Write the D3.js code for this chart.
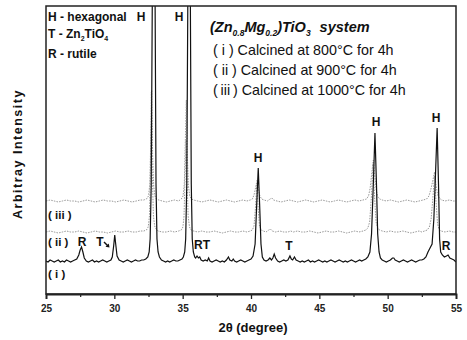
<!DOCTYPE html>
<html><head><meta charset="utf-8">
<script src="https://cdn.jsdelivr.net/npm/d3@7"></script>
<style>body{margin:0;background:#fff}svg{display:block}text{font-family:"Liberation Sans",Arial,sans-serif}</style>
</head><body><svg id="c" width="467" height="340"></svg>
<script>
// ---- data (2θ in degrees, intensity in arbitrary units) ----
const xTicks = [25, 30, 35, 40, 45, 50, 55];
const xMinorTicks = [27.5, 32.5, 37.5, 42.5, 47.5, 52.5];
const seriesLabels = ["( i )", "( ii )", "( iii )"];
const legendLines = ["( i ) Calcined at 800°C for 4h", "( ii ) Calcined at 900°C for 4h", "(\u2009iii\u2009) Calcined at 1000°C for 4h"];
const phaseKey = ["H - hexagonal", "T - Zn2TiO4", "R - rutile"];

const curveI = [[25.0,33],[25.15,32],[25.3,34],[25.45,33],[25.6,32],[25.75,33],[25.9,34],[26.05,32],[26.2,33],[26.35,32],[26.5,34],[26.65,33],[26.8,32],[26.95,33],[27.1,34],[27.25,35],[27.4,39],[27.5,44],[27.6,47],[27.7,42],[27.8,36],[27.95,33],[28.1,32],[28.25,33],[28.4,34],[28.55,32],[28.7,33],[28.85,32],[29.0,33],[29.15,34],[29.3,33],[29.45,32],[29.6,33],[29.75,34],[29.85,37],[29.95,48],[30.03,59],[30.1,50],[30.2,38],[30.35,34],[30.5,33],[30.65,32],[30.8,33],[30.95,34],[31.1,33],[31.25,32],[31.4,33],[31.55,34],[31.7,33],[31.85,33],[32.0,34],[32.15,34],[32.3,35],[32.45,37],[32.55,42],[32.62,55],[32.7,110],[32.78,300],[32.88,700],[32.98,300],[33.05,110],[33.12,55],[33.2,42],[33.3,37],[33.45,34],[33.6,33],[33.75,32],[33.9,33],[34.05,32],[34.2,33],[34.35,34],[34.5,33],[34.65,33],[34.8,34],[34.95,35],[35.05,37],[35.15,42],[35.22,55],[35.3,110],[35.38,300],[35.47,700],[35.56,300],[35.63,110],[35.7,55],[35.78,42],[35.88,37],[35.95,36],[36.05,38],[36.15,36],[36.25,37],[36.35,34],[36.5,33],[36.65,34],[36.8,33],[36.9,36],[37.0,33],[37.15,32],[37.3,33],[37.45,34],[37.6,33],[37.75,32],[37.9,33],[38.05,32],[38.2,34],[38.35,37],[38.45,34],[38.6,33],[38.7,35],[38.8,33],[38.95,32],[39.1,33],[39.25,34],[39.4,33],[39.55,32],[39.7,33],[39.85,34],[40.0,35],[40.15,38],[40.3,50],[40.42,90],[40.53,126],[40.63,90],[40.73,50],[40.83,37],[40.95,34],[41.1,33],[41.25,34],[41.38,36],[41.5,34],[41.6,36],[41.7,40],[41.8,36],[41.95,33],[42.1,32],[42.25,33],[42.4,34],[42.55,33],[42.7,34],[42.85,38],[42.95,35],[43.05,34],[43.18,37],[43.3,34],[43.45,33],[43.6,32],[43.75,33],[43.9,32],[44.05,33],[44.2,34],[44.35,32],[44.5,33],[44.65,32],[44.8,33],[44.95,34],[45.1,33],[45.25,32],[45.4,33],[45.55,32],[45.7,33],[45.85,34],[46.0,33],[46.15,32],[46.3,33],[46.45,34],[46.6,33],[46.75,32],[46.9,33],[47.05,32],[47.2,33],[47.35,34],[47.5,33],[47.65,32],[47.8,33],[47.95,34],[48.1,33],[48.25,34],[48.4,35],[48.55,37],[48.7,42],[48.82,60],[48.95,110],[49.07,161],[49.18,110],[49.27,60],[49.37,42],[49.47,36],[49.6,34],[49.75,33],[49.9,32],[50.05,33],[50.2,34],[50.35,36],[50.45,36],[50.55,34],[50.7,33],[50.85,32],[51.0,33],[51.15,34],[51.3,33],[51.45,32],[51.6,33],[51.75,34],[51.9,33],[52.05,32],[52.2,33],[52.35,34],[52.5,34],[52.65,35],[52.8,37],[52.95,42],[53.1,46],[53.25,50],[53.38,75],[53.5,120],[53.62,166],[53.72,110],[53.8,55],[53.88,42],[54.0,39],[54.15,37],[54.3,38],[54.42,39],[54.55,36],[54.7,35],[54.85,34],[55.0,32]];

const curveII = [[25,62],[25.3,63],[25.6,62],[25.9,61],[26.2,62],[26.5,63],[26.8,62],[27.1,62],[27.4,63],[27.7,62],[28.0,61],[28.3,62],[28.6,63],[28.9,62],[29.2,62],[29.5,61],[29.8,62],[30.1,63],[30.4,62],[30.7,62],[31.0,63],[31.3,62],[31.6,62],[31.9,63],[32.15,63],[32.35,64],[32.48,67],[32.57,78],[32.64,120],[32.71,202],[32.78,120],[32.86,78],[32.95,68],[33.05,65],[33.2,63],[33.5,62],[33.8,62],[34.1,63],[34.4,62],[34.7,63],[34.9,64],[35.02,67],[35.1,78],[35.17,115],[35.25,154],[35.33,110],[35.4,78],[35.5,67],[35.62,64],[35.8,63],[36.1,62],[36.4,63],[36.7,62],[37.0,62],[37.3,63],[37.6,62],[37.9,61],[38.2,62],[38.5,63],[38.8,62],[39.1,62],[39.4,63],[39.7,62],[39.95,63],[40.1,64],[40.22,68],[40.32,85],[40.43,110],[40.53,85],[40.62,68],[40.75,64],[40.9,63],[41.1,62],[41.3,64],[41.42,65],[41.55,63],[41.8,62],[42.1,63],[42.4,62],[42.7,62],[42.9,63],[43.1,62],[43.4,63],[43.7,62],[44.0,62],[44.3,63],[44.6,62],[44.9,61],[45.2,62],[45.5,63],[45.8,62],[46.1,62],[46.4,63],[46.7,62],[47.0,61],[47.3,62],[47.6,63],[47.9,62],[48.2,63],[48.4,64],[48.55,66],[48.68,72],[48.8,95],[48.93,130],[49.05,95],[49.15,72],[49.27,66],[49.4,64],[49.6,63],[49.9,62],[50.2,63],[50.5,62],[50.8,62],[51.1,63],[51.4,62],[51.7,61],[52.0,62],[52.3,63],[52.5,62],[52.7,63],[52.9,64],[53.05,67],[53.18,75],[53.3,95],[53.43,118],[53.55,90],[53.65,70],[53.75,65],[53.9,63],[54.2,62],[54.5,63],[54.8,62],[55,62]];

const curveIII = [[25,93],[25.3,94],[25.6,93],[25.9,92],[26.2,93],[26.5,94],[26.8,93],[27.1,93],[27.4,92],[27.7,93],[28.0,94],[28.3,93],[28.6,92],[28.9,93],[29.2,94],[29.5,93],[29.8,93],[30.1,92],[30.4,93],[30.7,94],[31.0,93],[31.3,92],[31.6,93],[31.9,94],[32.15,94],[32.35,95],[32.5,98],[32.6,110],[32.66,150],[32.73,204],[32.8,140],[32.88,108],[32.97,98],[33.08,95],[33.25,94],[33.5,93],[33.8,92],[34.1,93],[34.4,94],[34.7,93],[34.9,95],[35.03,98],[35.12,110],[35.19,150],[35.27,194],[35.34,140],[35.42,108],[35.52,98],[35.65,95],[35.8,94],[36.1,93],[36.4,92],[36.7,93],[37.0,94],[37.3,93],[37.6,92],[37.9,93],[38.2,94],[38.5,93],[38.8,92],[39.1,93],[39.4,94],[39.7,93],[39.95,94],[40.1,95],[40.22,99],[40.33,106],[40.45,114],[40.55,104],[40.65,98],[40.78,95],[40.95,94],[41.2,93],[41.4,95],[41.52,96],[41.65,94],[41.9,93],[42.2,92],[42.5,93],[42.8,94],[43.1,93],[43.4,92],[43.7,93],[44.0,94],[44.3,93],[44.6,92],[44.9,93],[45.2,94],[45.5,93],[45.8,92],[46.1,93],[46.4,94],[46.7,93],[47.0,92],[47.3,93],[47.6,94],[47.9,93],[48.2,94],[48.45,95],[48.6,98],[48.72,106],[48.83,120],[48.95,134],[49.06,118],[49.16,104],[49.28,97],[49.42,95],[49.6,94],[49.9,93],[50.2,94],[50.5,93],[50.8,92],[51.1,93],[51.4,94],[51.7,93],[52.0,92],[52.3,93],[52.6,94],[52.85,95],[53.02,98],[53.15,104],[53.28,112],[53.43,122],[53.55,108],[53.66,99],[53.78,96],[53.95,94],[54.2,93],[54.5,94],[54.8,93],[55,93]];

// ---- layout ----
const svg = d3.select("#c");
const L = 46, R = 456, T = 6, B = 294;
const x = d3.scaleLinear().domain([25, 55]).range([L, R]);
const y = d3.scaleLinear().domain([0, 288]).range([B, T]);

svg.append("defs").append("clipPath").attr("id", "clip")
  .append("rect").attr("x", L).attr("y", T).attr("width", R - L).attr("height", B - T);

const line = d3.line().x(d => x(d[0])).y(d => y(d[1]));
const g = svg.append("g").attr("clip-path", "url(#clip)");
g.append("path").datum(curveIII).attr("d", line).attr("fill", "none")
  .attr("stroke", "#999").attr("stroke-width", 1).attr("stroke-dasharray", "1.5 1.2");
g.append("path").datum(curveII).attr("d", line).attr("fill", "none")
  .attr("stroke", "#999").attr("stroke-width", 1).attr("stroke-dasharray", "1.5 1.2");
g.append("path").datum(curveI).attr("d", line).attr("fill", "none")
  .attr("stroke", "#111").attr("stroke-width", 1.2);

// frame
svg.append("rect").attr("x", L).attr("y", T).attr("width", R - L).attr("height", B - T)
  .attr("fill", "none").attr("stroke", "#222").attr("stroke-width", 1.5);

// x axis
const ax = svg.append("g").attr("transform", `translate(0,${B})`)
  .call(d3.axisBottom(x).tickValues(xTicks).tickSize(5).tickPadding(6).tickFormat(d3.format("d")));
ax.select(".domain").attr("stroke", "#222").attr("stroke-width", 1.8);
ax.selectAll(".tick line").attr("stroke", "#222").attr("stroke-width", 1.3);
ax.selectAll(".tick text").attr("font-family", "'Liberation Sans',Arial,sans-serif")
  .attr("font-size", 10).attr("font-weight", "bold").attr("fill", "#222");
const axm = svg.append("g").attr("transform", `translate(0,${B})`)
  .call(d3.axisBottom(x).tickValues(xMinorTicks).tickSize(3).tickFormat(""));
axm.select(".domain").remove();
axm.selectAll(".tick line").attr("stroke", "#222").attr("stroke-width", 1.2);

// axis titles
svg.append("text").attr("x", 253).attr("y", 332).attr("text-anchor", "middle")
  .attr("font-size", 13).attr("font-weight", "bold").attr("fill", "#111").text("2θ (degree)");
svg.append("text").attr("transform", "translate(22,154) rotate(-90)").attr("text-anchor", "middle")
  .attr("font-size", 12.5).attr("font-weight", "bold").attr("letter-spacing", 1.5).attr("fill", "#111")
  .text("Arbitray Intensity");

// phase key (top left)
const bold = (sel) => sel.attr("font-weight", "bold").attr("fill", "#111");
bold(svg.append("text").attr("x", 48).attr("y", 21).attr("font-size", 12)).text(phaseKey[0]);
const tk = bold(svg.append("text").attr("x", 48).attr("y", 38).attr("font-size", 12));
tk.append("tspan").text("T - Zn");
tk.append("tspan").attr("dy", 3).attr("font-size", 7).text("2");
tk.append("tspan").attr("dy", -3).text("TiO");
tk.append("tspan").attr("dy", 3).attr("font-size", 7).text("4");
bold(svg.append("text").attr("x", 48).attr("y", 58).attr("font-size", 12)).text(phaseKey[2]);

// title
const tt = svg.append("text").attr("x", 210).attr("y", 32).attr("font-size", 14.5)
  .attr("font-weight", "bold").attr("font-style", "italic").attr("fill", "#111");
tt.append("tspan").text("(Zn");
tt.append("tspan").attr("dy", 4).attr("font-size", 8.5).text("0.8");
tt.append("tspan").attr("dy", -4).text("Mg");
tt.append("tspan").attr("dy", 4).attr("font-size", 8.5).text("0.2");
tt.append("tspan").attr("dy", -4).text(")TiO");
tt.append("tspan").attr("dy", 4).attr("font-size", 8.5).text("3");
tt.append("tspan").attr("dy", -4).attr("dx", 9).text("system");

// legend lines
legendLines.forEach((t, i) => {
  svg.append("text").attr("x", 213).attr("y", 55 + i * 20).attr("font-size", 14.3)
    .attr("fill", "#111").text(t);
});

// peak / series annotations
const ann = [
  ["H", 141, 21], ["H", 179, 21], ["H", 258, 162], ["H", 376, 126], ["H", 436, 122],
  ["R", 82, 246], ["T", 100, 246], ["RT", 202, 249], ["T", 289, 250], ["R", 446, 250]
];
ann.forEach(a => bold(svg.append("text").attr("x", a[1]).attr("y", a[2]).attr("font-size", 12)
  .attr("text-anchor", "middle")).text(a[0]));
svg.append("path").attr("d", "M104,242 L108.5,246.5").attr("stroke", "#111").attr("stroke-width", 1.4);
svg.append("path").attr("d", "M109.5,247.5 L105.5,246.8 L108.8,243.5 Z").attr("fill", "#111");

const labY = [278, 246, 219];
seriesLabels.forEach((t, i) => bold(svg.append("text").attr("x", 48).attr("y", labY[i]).attr("font-size", 11.5)).text(t));
</script></body></html>
